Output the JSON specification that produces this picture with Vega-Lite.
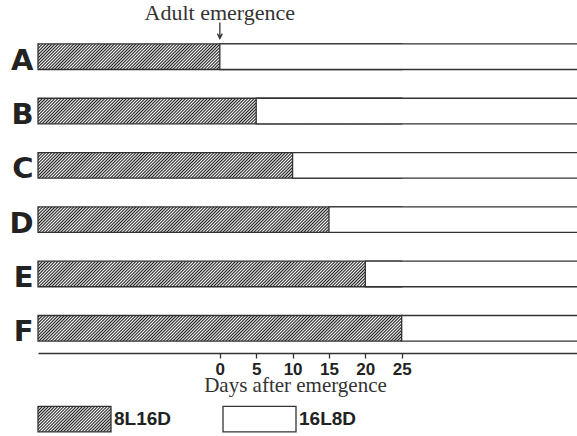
{
  "$schema": "https://vega.github.io/schema/vega-lite/v6.json",
  "width": 539,
  "height": 321,
  "autosize": "none",
  "padding": {"left": 38, "top": 32, "right": 0, "bottom": 83},
  "background": "white",
  "config": {
    "view": {"stroke": null},
    "axisY": {
      "domain": false,
      "ticks": false,
      "labelFont": "DejaVu Sans",
      "labelFontWeight": "bold",
      "labelFontSize": 29,
      "labelColor": "#222222",
      "labelPadding": 5,
      "labelOffset": 4
    },
    "axisX": {
      "grid": false,
      "domainColor": "#333333",
      "domainWidth": 1.3,
      "tickColor": "#333333",
      "tickWidth": 1.3,
      "tickSize": 5,
      "labelFont": "Liberation Sans",
      "labelFontWeight": "bold",
      "labelFontSize": 17,
      "labelColor": "#222222",
      "labelPadding": 3.5,
      "titleFont": "Liberation Serif",
      "titleFontWeight": "normal",
      "titleFontSize": 21,
      "titleColor": "#333333"
    }
  },
  "data": {
    "values": [
      {"row": "A", "start": -25, "switch": 0},
      {"row": "B", "start": -25, "switch": 5},
      {"row": "C", "start": -25, "switch": 10},
      {"row": "D", "start": -25, "switch": 15},
      {"row": "E", "start": -25, "switch": 20},
      {"row": "F", "start": -25, "switch": 25}
    ]
  },
  "layer": [
    {
      "transform": [{"joinaggregate": [{"op": "max", "field": "switch", "as": "lastSwitch"}]}],
      "mark": {
        "type": "bar",
        "stroke": "#333333",
        "strokeWidth": 1.3,
        "fill": {"gradient": "linear", "x1": 0, "y1": 0, "x2": 1.065, "y2": 0.0748, "stops": [
          {"offset":0,"color":"#fff"},{"offset":0.004,"color":"#1a1a1a"},{"offset":0.008,"color":"#fff"},{"offset":0.012,"color":"#1a1a1a"},{"offset":0.016,"color":"#fff"},{"offset":0.02,"color":"#1a1a1a"},{"offset":0.024,"color":"#fff"},{"offset":0.028,"color":"#1a1a1a"},{"offset":0.032,"color":"#fff"},{"offset":0.036,"color":"#1a1a1a"},
          {"offset":0.04,"color":"#fff"},{"offset":0.044,"color":"#1a1a1a"},{"offset":0.048,"color":"#fff"},{"offset":0.052,"color":"#1a1a1a"},{"offset":0.056,"color":"#fff"},{"offset":0.06,"color":"#1a1a1a"},{"offset":0.064,"color":"#fff"},{"offset":0.068,"color":"#1a1a1a"},{"offset":0.072,"color":"#fff"},{"offset":0.076,"color":"#1a1a1a"},
          {"offset":0.08,"color":"#fff"},{"offset":0.084,"color":"#1a1a1a"},{"offset":0.088,"color":"#fff"},{"offset":0.092,"color":"#1a1a1a"},{"offset":0.096,"color":"#fff"},{"offset":0.1,"color":"#1a1a1a"},{"offset":0.104,"color":"#fff"},{"offset":0.108,"color":"#1a1a1a"},{"offset":0.112,"color":"#fff"},{"offset":0.116,"color":"#1a1a1a"},
          {"offset":0.12,"color":"#fff"},{"offset":0.124,"color":"#1a1a1a"},{"offset":0.128,"color":"#fff"},{"offset":0.132,"color":"#1a1a1a"},{"offset":0.136,"color":"#fff"},{"offset":0.14,"color":"#1a1a1a"},{"offset":0.144,"color":"#fff"},{"offset":0.148,"color":"#1a1a1a"},{"offset":0.152,"color":"#fff"},{"offset":0.156,"color":"#1a1a1a"},
          {"offset":0.16,"color":"#fff"},{"offset":0.164,"color":"#1a1a1a"},{"offset":0.168,"color":"#fff"},{"offset":0.172,"color":"#1a1a1a"},{"offset":0.176,"color":"#fff"},{"offset":0.18,"color":"#1a1a1a"},{"offset":0.184,"color":"#fff"},{"offset":0.188,"color":"#1a1a1a"},{"offset":0.192,"color":"#fff"},{"offset":0.196,"color":"#1a1a1a"},
          {"offset":0.2,"color":"#fff"},{"offset":0.204,"color":"#1a1a1a"},{"offset":0.208,"color":"#fff"},{"offset":0.212,"color":"#1a1a1a"},{"offset":0.216,"color":"#fff"},{"offset":0.22,"color":"#1a1a1a"},{"offset":0.224,"color":"#fff"},{"offset":0.228,"color":"#1a1a1a"},{"offset":0.232,"color":"#fff"},{"offset":0.236,"color":"#1a1a1a"},
          {"offset":0.24,"color":"#fff"},{"offset":0.244,"color":"#1a1a1a"},{"offset":0.248,"color":"#fff"},{"offset":0.252,"color":"#1a1a1a"},{"offset":0.256,"color":"#fff"},{"offset":0.26,"color":"#1a1a1a"},{"offset":0.264,"color":"#fff"},{"offset":0.268,"color":"#1a1a1a"},{"offset":0.272,"color":"#fff"},{"offset":0.276,"color":"#1a1a1a"},
          {"offset":0.28,"color":"#fff"},{"offset":0.284,"color":"#1a1a1a"},{"offset":0.288,"color":"#fff"},{"offset":0.292,"color":"#1a1a1a"},{"offset":0.296,"color":"#fff"},{"offset":0.3,"color":"#1a1a1a"},{"offset":0.304,"color":"#fff"},{"offset":0.308,"color":"#1a1a1a"},{"offset":0.312,"color":"#fff"},{"offset":0.316,"color":"#1a1a1a"},
          {"offset":0.32,"color":"#fff"},{"offset":0.324,"color":"#1a1a1a"},{"offset":0.328,"color":"#fff"},{"offset":0.332,"color":"#1a1a1a"},{"offset":0.336,"color":"#fff"},{"offset":0.34,"color":"#1a1a1a"},{"offset":0.344,"color":"#fff"},{"offset":0.348,"color":"#1a1a1a"},{"offset":0.352,"color":"#fff"},{"offset":0.356,"color":"#1a1a1a"},
          {"offset":0.36,"color":"#fff"},{"offset":0.364,"color":"#1a1a1a"},{"offset":0.368,"color":"#fff"},{"offset":0.372,"color":"#1a1a1a"},{"offset":0.376,"color":"#fff"},{"offset":0.38,"color":"#1a1a1a"},{"offset":0.384,"color":"#fff"},{"offset":0.388,"color":"#1a1a1a"},{"offset":0.392,"color":"#fff"},{"offset":0.396,"color":"#1a1a1a"},
          {"offset":0.4,"color":"#fff"},{"offset":0.404,"color":"#1a1a1a"},{"offset":0.408,"color":"#fff"},{"offset":0.412,"color":"#1a1a1a"},{"offset":0.416,"color":"#fff"},{"offset":0.42,"color":"#1a1a1a"},{"offset":0.424,"color":"#fff"},{"offset":0.428,"color":"#1a1a1a"},{"offset":0.432,"color":"#fff"},{"offset":0.436,"color":"#1a1a1a"},
          {"offset":0.44,"color":"#fff"},{"offset":0.444,"color":"#1a1a1a"},{"offset":0.448,"color":"#fff"},{"offset":0.452,"color":"#1a1a1a"},{"offset":0.456,"color":"#fff"},{"offset":0.46,"color":"#1a1a1a"},{"offset":0.464,"color":"#fff"},{"offset":0.468,"color":"#1a1a1a"},{"offset":0.472,"color":"#fff"},{"offset":0.476,"color":"#1a1a1a"},
          {"offset":0.48,"color":"#fff"},{"offset":0.484,"color":"#1a1a1a"},{"offset":0.488,"color":"#fff"},{"offset":0.492,"color":"#1a1a1a"},{"offset":0.496,"color":"#fff"},{"offset":0.5,"color":"#1a1a1a"},{"offset":0.504,"color":"#fff"},{"offset":0.508,"color":"#1a1a1a"},{"offset":0.512,"color":"#fff"},{"offset":0.516,"color":"#1a1a1a"},
          {"offset":0.52,"color":"#fff"},{"offset":0.524,"color":"#1a1a1a"},{"offset":0.528,"color":"#fff"},{"offset":0.532,"color":"#1a1a1a"},{"offset":0.536,"color":"#fff"},{"offset":0.54,"color":"#1a1a1a"},{"offset":0.544,"color":"#fff"},{"offset":0.548,"color":"#1a1a1a"},{"offset":0.552,"color":"#fff"},{"offset":0.556,"color":"#1a1a1a"},
          {"offset":0.56,"color":"#fff"},{"offset":0.564,"color":"#1a1a1a"},{"offset":0.568,"color":"#fff"},{"offset":0.572,"color":"#1a1a1a"},{"offset":0.576,"color":"#fff"},{"offset":0.58,"color":"#1a1a1a"},{"offset":0.584,"color":"#fff"},{"offset":0.588,"color":"#1a1a1a"},{"offset":0.592,"color":"#fff"},{"offset":0.596,"color":"#1a1a1a"},
          {"offset":0.6,"color":"#fff"},{"offset":0.604,"color":"#1a1a1a"},{"offset":0.608,"color":"#fff"},{"offset":0.612,"color":"#1a1a1a"},{"offset":0.616,"color":"#fff"},{"offset":0.62,"color":"#1a1a1a"},{"offset":0.624,"color":"#fff"},{"offset":0.628,"color":"#1a1a1a"},{"offset":0.632,"color":"#fff"},{"offset":0.636,"color":"#1a1a1a"},
          {"offset":0.64,"color":"#fff"},{"offset":0.644,"color":"#1a1a1a"},{"offset":0.648,"color":"#fff"},{"offset":0.652,"color":"#1a1a1a"},{"offset":0.656,"color":"#fff"},{"offset":0.66,"color":"#1a1a1a"},{"offset":0.664,"color":"#fff"},{"offset":0.668,"color":"#1a1a1a"},{"offset":0.672,"color":"#fff"},{"offset":0.676,"color":"#1a1a1a"},
          {"offset":0.68,"color":"#fff"},{"offset":0.684,"color":"#1a1a1a"},{"offset":0.688,"color":"#fff"},{"offset":0.692,"color":"#1a1a1a"},{"offset":0.696,"color":"#fff"},{"offset":0.7,"color":"#1a1a1a"},{"offset":0.704,"color":"#fff"},{"offset":0.708,"color":"#1a1a1a"},{"offset":0.712,"color":"#fff"},{"offset":0.716,"color":"#1a1a1a"},
          {"offset":0.72,"color":"#fff"},{"offset":0.724,"color":"#1a1a1a"},{"offset":0.728,"color":"#fff"},{"offset":0.732,"color":"#1a1a1a"},{"offset":0.736,"color":"#fff"},{"offset":0.74,"color":"#1a1a1a"},{"offset":0.744,"color":"#fff"},{"offset":0.748,"color":"#1a1a1a"},{"offset":0.752,"color":"#fff"},{"offset":0.756,"color":"#1a1a1a"},
          {"offset":0.76,"color":"#fff"},{"offset":0.764,"color":"#1a1a1a"},{"offset":0.768,"color":"#fff"},{"offset":0.772,"color":"#1a1a1a"},{"offset":0.776,"color":"#fff"},{"offset":0.78,"color":"#1a1a1a"},{"offset":0.784,"color":"#fff"},{"offset":0.788,"color":"#1a1a1a"},{"offset":0.792,"color":"#fff"},{"offset":0.796,"color":"#1a1a1a"},
          {"offset":0.8,"color":"#fff"},{"offset":0.804,"color":"#1a1a1a"},{"offset":0.808,"color":"#fff"},{"offset":0.812,"color":"#1a1a1a"},{"offset":0.816,"color":"#fff"},{"offset":0.82,"color":"#1a1a1a"},{"offset":0.824,"color":"#fff"},{"offset":0.828,"color":"#1a1a1a"},{"offset":0.832,"color":"#fff"},{"offset":0.836,"color":"#1a1a1a"},
          {"offset":0.84,"color":"#fff"},{"offset":0.844,"color":"#1a1a1a"},{"offset":0.848,"color":"#fff"},{"offset":0.852,"color":"#1a1a1a"},{"offset":0.856,"color":"#fff"},{"offset":0.86,"color":"#1a1a1a"},{"offset":0.864,"color":"#fff"},{"offset":0.868,"color":"#1a1a1a"},{"offset":0.872,"color":"#fff"},{"offset":0.876,"color":"#1a1a1a"},
          {"offset":0.88,"color":"#fff"},{"offset":0.884,"color":"#1a1a1a"},{"offset":0.888,"color":"#fff"},{"offset":0.892,"color":"#1a1a1a"},{"offset":0.896,"color":"#fff"},{"offset":0.9,"color":"#1a1a1a"},{"offset":0.904,"color":"#fff"},{"offset":0.908,"color":"#1a1a1a"},{"offset":0.912,"color":"#fff"},{"offset":0.916,"color":"#1a1a1a"},
          {"offset":0.92,"color":"#fff"},{"offset":0.924,"color":"#1a1a1a"},{"offset":0.928,"color":"#fff"},{"offset":0.932,"color":"#1a1a1a"},{"offset":0.936,"color":"#fff"},{"offset":0.94,"color":"#1a1a1a"},{"offset":0.944,"color":"#fff"},{"offset":0.948,"color":"#1a1a1a"},{"offset":0.952,"color":"#fff"},{"offset":0.956,"color":"#1a1a1a"},
          {"offset":0.96,"color":"#fff"},{"offset":0.964,"color":"#1a1a1a"},{"offset":0.968,"color":"#fff"},{"offset":0.972,"color":"#1a1a1a"},{"offset":0.976,"color":"#fff"},{"offset":0.98,"color":"#1a1a1a"},{"offset":0.984,"color":"#fff"},{"offset":0.988,"color":"#1a1a1a"},{"offset":0.992,"color":"#fff"},{"offset":0.996,"color":"#1a1a1a"},
          {"offset":1,"color":"#fff"}
        ]}
      },
      "encoding": {
        "y": {
          "field": "row",
          "type": "nominal",
          "scale": {"paddingInner": 0.53, "paddingOuter": 0.22},
          "axis": {"title": null}
        },
        "x": {
          "field": "start",
          "type": "quantitative",
          "scale": {"domain": [-25, 49.1], "nice": false, "zero": false},
          "axis": {
            "values": [0, 5, 10, 15, 20, 25],
            "title": "Days after emergence",
            "titleX": 257,
            "titleY": 38,
            "titleAlign": "center",
            "titleBaseline": "alphabetic"
          }
        },
        "x2": {"field": "lastSwitch"}
      }
    },
    {
      "mark": {"type": "bar", "stroke": "#333333", "strokeWidth": 1.3, "clip": true},
      "encoding": {
        "y": {"field": "row", "type": "nominal"},
        "x": {
          "field": "switch",
          "type": "quantitative",
          "axis": {
            "values": [0, 5, 10, 15, 20, 25],
            "title": "Days after emergence",
            "titleX": 257,
            "titleY": 38,
            "titleAlign": "center",
            "titleBaseline": "alphabetic"
          }
        },
        "x2": {"datum": 60},
        "fill": {
          "datum": "16L8D",
          "type": "nominal",
          "scale": {
            "domain": ["8L16D", "16L8D"],
            "range": [
              {"expr": "{gradient:'linear',x1:0,y1:0,x2:1.2027,y2:0.421,stops:[{offset:0,color:'#fff'},{offset:0.015625,color:'#1a1a1a'},{offset:0.03125,color:'#fff'},{offset:0.046875,color:'#1a1a1a'},{offset:0.0625,color:'#fff'},{offset:0.078125,color:'#1a1a1a'},{offset:0.09375,color:'#fff'},{offset:0.109375,color:'#1a1a1a'},{offset:0.125,color:'#fff'},{offset:0.140625,color:'#1a1a1a'},{offset:0.15625,color:'#fff'},{offset:0.171875,color:'#1a1a1a'},{offset:0.1875,color:'#fff'},{offset:0.203125,color:'#1a1a1a'},{offset:0.21875,color:'#fff'},{offset:0.234375,color:'#1a1a1a'},{offset:0.25,color:'#fff'},{offset:0.265625,color:'#1a1a1a'},{offset:0.28125,color:'#fff'},{offset:0.296875,color:'#1a1a1a'},{offset:0.3125,color:'#fff'},{offset:0.328125,color:'#1a1a1a'},{offset:0.34375,color:'#fff'},{offset:0.359375,color:'#1a1a1a'},{offset:0.375,color:'#fff'},{offset:0.390625,color:'#1a1a1a'},{offset:0.40625,color:'#fff'},{offset:0.421875,color:'#1a1a1a'},{offset:0.4375,color:'#fff'},{offset:0.453125,color:'#1a1a1a'},{offset:0.46875,color:'#fff'},{offset:0.484375,color:'#1a1a1a'},{offset:0.5,color:'#fff'},{offset:0.515625,color:'#1a1a1a'},{offset:0.53125,color:'#fff'},{offset:0.546875,color:'#1a1a1a'},{offset:0.5625,color:'#fff'},{offset:0.578125,color:'#1a1a1a'},{offset:0.59375,color:'#fff'},{offset:0.609375,color:'#1a1a1a'},{offset:0.625,color:'#fff'},{offset:0.640625,color:'#1a1a1a'},{offset:0.65625,color:'#fff'},{offset:0.671875,color:'#1a1a1a'},{offset:0.6875,color:'#fff'},{offset:0.703125,color:'#1a1a1a'},{offset:0.71875,color:'#fff'},{offset:0.734375,color:'#1a1a1a'},{offset:0.75,color:'#fff'},{offset:0.765625,color:'#1a1a1a'},{offset:0.78125,color:'#fff'},{offset:0.796875,color:'#1a1a1a'},{offset:0.8125,color:'#fff'},{offset:0.828125,color:'#1a1a1a'},{offset:0.84375,color:'#fff'},{offset:0.859375,color:'#1a1a1a'},{offset:0.875,color:'#fff'},{offset:0.890625,color:'#1a1a1a'},{offset:0.90625,color:'#fff'},{offset:0.921875,color:'#1a1a1a'},{offset:0.9375,color:'#fff'},{offset:0.953125,color:'#1a1a1a'},{offset:0.96875,color:'#fff'},{offset:0.984375,color:'#1a1a1a'},{offset:1,color:'#fff'}]}"},
              "#ffffff"
            ]
          },
          "legend": {
            "orient": "none",
            "legendX": -1,
            "legendY": 349.5,
            "direction": "horizontal",
            "title": null,
            "padding": 0,
            "symbolType": "M-1,-0.35H1V0.35H-1Z",
            "symbolSize": 5329,
            "symbolStrokeWidth": 1.3,
            "symbolStrokeColor": "#333333",
            "symbolOpacity": 1,
            "labelFont": "Liberation Sans",
            "labelFontWeight": "bold",
            "labelFontSize": 19,
            "labelColor": "#222222",
            "labelOffset": 2,
            "columnPadding": 48
          }
        }
      }
    },
    {
      "data": {"values": [{"day": 0, "note": "Adult emergence"}]},
      "mark": {
        "type": "text",
        "font": "Liberation Serif",
        "fontSize": 22,
        "color": "#333333",
        "baseline": "alphabetic",
        "align": "center",
        "dy": -24
      },
      "encoding": {
        "x": {
          "field": "day",
          "type": "quantitative",
          "axis": {
            "values": [0, 5, 10, 15, 20, 25],
            "title": "Days after emergence",
            "titleX": 257,
            "titleY": 38,
            "titleAlign": "center",
            "titleBaseline": "alphabetic"
          }
        },
        "y": {"datum": "A", "type": "nominal", "bandPosition": 0},
        "text": {"field": "note"}
      }
    },
    {
      "data": {"values": [{"day": 0}]},
      "mark": {
        "type": "point",
        "shape": "M0,-1L0,0.95M-0.3,0.4L0,1L0.3,0.4",
        "filled": false,
        "stroke": "#333333",
        "strokeWidth": 1.3,
        "opacity": 1,
        "size": 256,
        "yOffset": -13.5
      },
      "encoding": {
        "x": {
          "field": "day",
          "type": "quantitative",
          "axis": {
            "values": [0, 5, 10, 15, 20, 25],
            "title": "Days after emergence",
            "titleX": 257,
            "titleY": 38,
            "titleAlign": "center",
            "titleBaseline": "alphabetic"
          }
        },
        "y": {"datum": "A", "type": "nominal", "bandPosition": 0}
      }
    }
  ]
}
